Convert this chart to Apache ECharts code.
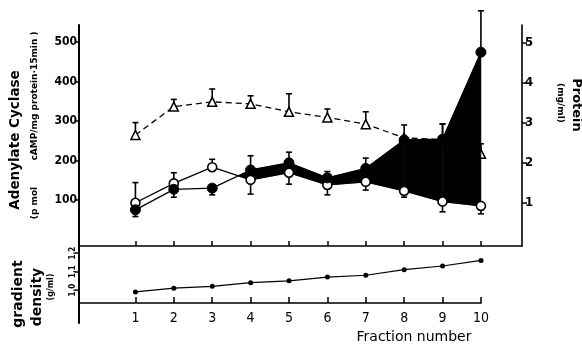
<!DOCTYPE html>
<html>
<head>
<meta charset="utf-8">
<script src="https://cdn.jsdelivr.net/npm/echarts@6/dist/echarts.min.js"></script>
<style>
  html, body { margin: 0; padding: 0; background: #fff; }
  #chart { width: 582px; height: 345px; }
</style>
</head>
<body>
<div id="chart"></div>
<script>
// fraction numbers (x)
const fractions = [1, 2, 3, 4, 5, 6, 7, 8, 9, 10];

// adenylate cyclase, pmol cAMP/mg protein·15min
const openCircle = [93, 142, 183, 151, 169, 138, 146, 123, 96, 85];
const openErrEnd = [144, 169, 203, 115, 140, 113, 125, 107, 70, 65];
const filledCircle = [75, 127, 130, 176, 194, 156, 180, 252, 254, 474];
const filledErrEnd = [58, 107, 113, 212, 221, 172, 206, null, 292, 579];

// protein, mg/ml (triangles)
const protein = [2.7, 3.41, 3.53, 3.48, 3.28, 3.14, 2.97, 2.63, 2.58, 2.23];
const proteinErrEnd = [3.01, 3.59, 3.85, 3.68, 3.73, 3.35, 3.28, 2.95, 2.98, 2.48];

// gradient density, g/ml
const density = [0.99, 1.01, 1.02, 1.04, 1.05, 1.07, 1.08, 1.11, 1.13, 1.16];

// tick labels
const cyclaseTicks = [100, 200, 300, 400, 500];
const proteinTicks = [1, 2, 3, 4, 5];
const densityTicks = [1.0, 1.1, 1.2];

const numFont = '"DejaVu Sans Condensed", "DejaVu Sans", sans-serif';
const textFont = '"DejaVu Sans", sans-serif';

const pairs = (vals) => fractions.map((x, i) => [x, vals[i]]);

// error bar items: [x, value, end]
const errItems = (vals, ends) => fractions
  .map((x, i) => [x, vals[i], ends[i]])
  .filter(d => d[2] != null);

// one item per segment for the black band between the two circle lines
const bandItems = fractions.slice(0, -1).map((x, i) => [
  x, openCircle[i], filledCircle[i],
  fractions[i + 1], openCircle[i + 1], filledCircle[i + 1]
]);

const renderErr = (params, api) => {
  const p = api.coord([api.value(0), api.value(1)]);
  const e = api.coord([api.value(0), api.value(2)]);
  const style = { stroke: '#000', lineWidth: 1.6 };
  return {
    type: 'group',
    children: [
      { type: 'line', shape: { x1: p[0], y1: p[1], x2: e[0], y2: e[1] }, style },
      { type: 'line', shape: { x1: e[0] - 3, y1: e[1], x2: e[0] + 3, y2: e[1] }, style }
    ]
  };
};

const renderBand = (params, api) => {
  const x0 = api.value(0), o0 = api.value(1), f0 = api.value(2);
  const x1 = api.value(3), o1 = api.value(4), f1 = api.value(5);
  const d0 = f0 - o0, d1 = f1 - o1;
  if (d0 <= 0 && d1 <= 0) return null;
  let pts;
  if (d0 >= 0 && d1 >= 0) {
    pts = [[x0, o0], [x0, f0], [x1, f1], [x1, o1]];
  } else {
    const t = d0 / (d0 - d1);
    const cross = [x0 + t * (x1 - x0), o0 + t * (o1 - o0)];
    pts = d0 < 0 ? [cross, [x1, f1], [x1, o1]] : [[x0, o0], [x0, f0], cross];
  }
  return {
    type: 'polygon',
    shape: { points: pts.map(p => api.coord(p)) },
    style: { fill: '#000', stroke: '#000', lineWidth: 0.6 }
  };
};

const axisLine = (width) => ({ show: true, onZero: false, lineStyle: { color: '#000', width } });

const chart = echarts.init(document.getElementById('chart'));

const option = {
  animation: false,
  backgroundColor: '#fff',
  grid: [
    { left: 79, top: 25, width: 443, height: 221, outerBoundsMode: 'none', containLabel: false },
    { left: 79, top: 246, width: 402, height: 57, outerBoundsMode: 'none', containLabel: false },
    { left: 79, top: 303, width: 402, height: 20, outerBoundsMode: 'none', containLabel: false }
  ],
  xAxis: [
    {
      gridIndex: 0, type: 'value', min: -0.47, max: 11.07,
      axisLine: axisLine(1.6),
      axisTick: { inside: true, length: 5, customValues: fractions, lineStyle: { color: '#000', width: 1.5 } },
      axisLabel: { show: false },
      splitLine: { show: false }
    },
    {
      gridIndex: 1, type: 'value', min: -0.47, max: 10,
      axisLine: axisLine(1.6),
      axisTick: { inside: true, length: 6, customValues: fractions, lineStyle: { color: '#000', width: 1.5 } },
      axisLabel: {
        customValues: fractions, margin: 8, color: '#000',
        fontFamily: numFont, fontSize: 14
      },
      splitLine: { show: false }
    },
    {
      gridIndex: 2, type: 'value', min: 0, max: 1, show: false
    }
  ],
  yAxis: [
    {
      gridIndex: 0, type: 'value', min: -16.5, max: 543,
      axisLine: axisLine(2),
      axisTick: { show: true, length: 4, customValues: cyclaseTicks, lineStyle: { color: '#000', width: 1.5 } },
      axisLabel: {
        customValues: cyclaseTicks, margin: 2, color: '#000',
        fontFamily: numFont, fontWeight: 'bold', fontSize: 12
      },
      splitLine: { show: false }
    },
    {
      gridIndex: 0, type: 'value', position: 'right', min: -0.075, max: 5.45,
      axisLine: axisLine(1.6),
      axisTick: { show: true, length: 5, customValues: proteinTicks, lineStyle: { color: '#000', width: 1.5 } },
      axisLabel: {
        customValues: proteinTicks, margin: 3, color: '#000',
        fontFamily: numFont, fontWeight: 'bold', fontSize: 13
      },
      splitLine: { show: false }
    },
    {
      gridIndex: 1, type: 'value', min: 0.93, max: 1.238,
      axisLine: axisLine(2),
      axisTick: { show: true, length: 4, customValues: densityTicks, lineStyle: { color: '#000', width: 1.5 } },
      axisLabel: {
        customValues: densityTicks, margin: 2, rotate: 90, color: '#000',
        fontFamily: numFont, fontWeight: 'bold', fontSize: 8,
        formatter: v => v.toFixed(1)
      },
      splitLine: { show: false }
    },
    {
      gridIndex: 2, type: 'value', min: 0, max: 1,
      axisLine: axisLine(2),
      axisTick: { show: false }, axisLabel: { show: false }, splitLine: { show: false }
    }
  ],
  graphic: [
    { type: 'text', x: 15, y: 140, rotation: Math.PI / 2,
      style: { text: 'Adenylate Cyclase', font: 'bold 13.5px ' + textFont, fill: '#000', align: 'center', verticalAlign: 'middle' } },
    { type: 'text', x: 35, y: 203, rotation: Math.PI / 2,
      style: { text: '(p mol', font: 'bold 9px ' + textFont, fill: '#000', align: 'center', verticalAlign: 'middle' } },
    { type: 'text', x: 35, y: 96, rotation: Math.PI / 2,
      style: { text: 'cAMP/mg protein·15min )', font: 'bold 9px ' + textFont, fill: '#000', align: 'center', verticalAlign: 'middle' } },
    { type: 'text', x: 576, y: 105, rotation: -Math.PI / 2,
      style: { text: 'Protein', font: 'bold 13px ' + textFont, fill: '#000', align: 'center', verticalAlign: 'middle' } },
    { type: 'text', x: 560, y: 103, rotation: -Math.PI / 2,
      style: { text: '(mg/ml)', font: 'bold 9px ' + textFont, fill: '#000', align: 'center', verticalAlign: 'middle' } },
    { type: 'text', x: 18, y: 294, rotation: Math.PI / 2,
      style: { text: 'gradient', font: 'bold 14px ' + textFont, fill: '#000', align: 'center', verticalAlign: 'middle' } },
    { type: 'text', x: 37, y: 297, rotation: Math.PI / 2,
      style: { text: 'density', font: 'bold 14px ' + textFont, fill: '#000', align: 'center', verticalAlign: 'middle' } },
    { type: 'text', x: 51, y: 287, rotation: Math.PI / 2,
      style: { text: '(g/ml)', font: 'bold 8px ' + textFont, fill: '#000', align: 'center', verticalAlign: 'middle' } },
    { type: 'text', x: 414, y: 337,
      style: { text: 'Fraction number', font: '14px ' + textFont, fill: '#000', align: 'center', verticalAlign: 'middle' } }
  ],
  series: [
    {
      name: 'Protein', type: 'line', xAxisIndex: 0, yAxisIndex: 1, z: 1,
      data: pairs(protein),
      symbol: 'triangle', symbolSize: 9,
      itemStyle: { color: '#fff', borderColor: '#000', borderWidth: 1.5 },
      lineStyle: { color: '#000', width: 1.3, type: [6, 4] }
    },
    {
      name: 'Protein error', type: 'custom', xAxisIndex: 0, yAxisIndex: 1, z: 1,
      clip: false, data: errItems(protein, proteinErrEnd), renderItem: renderErr
    },
    {
      name: 'Band', type: 'custom', xAxisIndex: 0, yAxisIndex: 0, z: 2,
      clip: false, data: bandItems, renderItem: renderBand
    },
    {
      name: 'Open error', type: 'custom', xAxisIndex: 0, yAxisIndex: 0, z: 3,
      clip: false, data: errItems(openCircle, openErrEnd), renderItem: renderErr
    },
    {
      name: 'Filled error', type: 'custom', xAxisIndex: 0, yAxisIndex: 0, z: 3,
      clip: false, data: errItems(filledCircle, filledErrEnd), renderItem: renderErr
    },
    {
      name: 'Adenylate cyclase (open)', type: 'line', xAxisIndex: 0, yAxisIndex: 0, z: 4,
      data: pairs(openCircle),
      symbol: 'circle', symbolSize: 9,
      itemStyle: { color: '#fff', borderColor: '#000', borderWidth: 1.6 },
      lineStyle: { color: '#000', width: 1.3 }
    },
    {
      name: 'Adenylate cyclase (filled)', type: 'line', xAxisIndex: 0, yAxisIndex: 0, z: 4,
      data: pairs(filledCircle), clip: false,
      symbol: 'circle', symbolSize: 10,
      itemStyle: { color: '#000', borderColor: '#000', borderWidth: 1 },
      lineStyle: { color: '#000', width: 1.3 }
    },
    {
      name: 'Density', type: 'line', xAxisIndex: 1, yAxisIndex: 2,
      data: pairs(density),
      symbol: 'circle', symbolSize: 5,
      itemStyle: { color: '#000' },
      lineStyle: { color: '#000', width: 1.2 }
    }
  ]
};

chart.setOption(option);
</script>
</body>
</html>
